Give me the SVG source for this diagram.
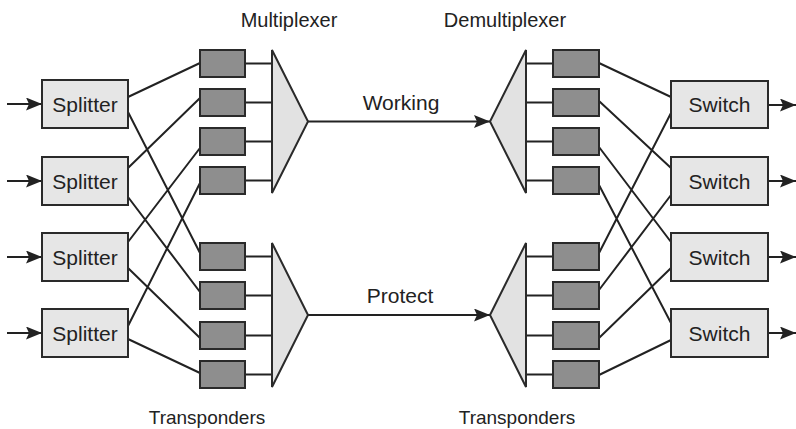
<svg xmlns="http://www.w3.org/2000/svg" width="796" height="429" viewBox="0 0 796 429">
<style>
.box{fill:#e6e6e6;stroke:#2a2a2a;stroke-width:2}
.tp{fill:#8e8e8e;stroke:#2a2a2a;stroke-width:2}
.mux{fill:#e2e2e2;stroke:#2a2a2a;stroke-width:2;stroke-linejoin:miter}
.ln{fill:none;stroke:#222;stroke-width:2}
.t{font-family:"Liberation Sans",Arial,sans-serif;fill:#222;text-anchor:middle}
.bt{font-size:21px}
.lb{font-size:20px}
.lt{font-size:19px}
</style>
<defs>
<marker id="ah" markerUnits="userSpaceOnUse" markerWidth="16" markerHeight="13" refX="16" refY="6.5" orient="auto">
<path d="M0,0 L16,6.5 L0,13 L3,6.5 z" fill="#222"/>
</marker>
</defs>
<rect width="796" height="429" fill="#fff"/>
<g id="labels">
<text class="t lb" x="289" y="27">Multiplexer</text>
<text class="t lb" x="505" y="27">Demultiplexer</text>
<text class="t lt" x="207" y="424">Transponders</text>
<text class="t lt" x="517" y="424">Transponders</text>
<text class="t bt" x="401" y="110">Working</text>
<text class="t bt" x="400" y="303">Protect</text>
</g>
<g id="connectors">
<line class="ln" x1="7" y1="104" x2="42" y2="104" marker-end="url(#ah)"/>
<line class="ln" x1="7" y1="181" x2="42" y2="181" marker-end="url(#ah)"/>
<line class="ln" x1="7" y1="257" x2="42" y2="257" marker-end="url(#ah)"/>
<line class="ln" x1="7" y1="333" x2="42" y2="333" marker-end="url(#ah)"/>
<line class="ln" x1="768" y1="105" x2="796" y2="105" marker-end="url(#ah)"/>
<line class="ln" x1="768" y1="181" x2="796" y2="181" marker-end="url(#ah)"/>
<line class="ln" x1="768" y1="257" x2="796" y2="257" marker-end="url(#ah)"/>
<line class="ln" x1="768" y1="333" x2="796" y2="333" marker-end="url(#ah)"/>
<line class="ln" x1="308" y1="121.5" x2="490" y2="121.5" marker-end="url(#ah)"/>
<line class="ln" x1="308" y1="315" x2="490" y2="315" marker-end="url(#ah)"/>
<path class="ln" d="M128,97 L200,63 M128,112 L200,253 M128,168 L200,98 M128,197 L200,292 M128,242 L200,148 M128,268 L200,338 M128,326 L200,183 M128,339 L200,373"/>
<path class="ln" d="M599,63 L671,97 M599,253 L671,113 M599,101 L671,168 M599,290 L671,195 M599,147 L671,242 M599,338 L671,268 M599,185 L671,323 M599,375 L671,340"/>
<path class="ln" d="M245,63.5 H272 M245,102.5 H272 M245,141.5 H272 M245,180.5 H272 M245,256.5 H272 M245,295.5 H272 M245,335.5 H272 M245,374.5 H272"/>
<path class="ln" d="M526,63.5 H553 M526,102.5 H553 M526,141.5 H553 M526,180.5 H553 M526,256.5 H553 M526,295.5 H553 M526,335.5 H553 M526,374.5 H553"/>
</g>
<g id="splitter1"><rect class="box" x="42" y="80" width="86" height="48"/><text class="t bt" x="85" y="111.5">Splitter</text></g>
<g id="splitter2"><rect class="box" x="42" y="157" width="86" height="48"/><text class="t bt" x="85" y="188.5">Splitter</text></g>
<g id="splitter3"><rect class="box" x="42" y="233" width="86" height="48"/><text class="t bt" x="85" y="264.5">Splitter</text></g>
<g id="splitter4"><rect class="box" x="42" y="309" width="86" height="48"/><text class="t bt" x="85" y="340.5">Splitter</text></g>
<g id="switch1"><rect class="box" x="671" y="81" width="97" height="47"/><text class="t bt" x="719.5" y="112">Switch</text></g>
<g id="switch2"><rect class="box" x="671" y="157" width="97" height="48"/><text class="t bt" x="719.5" y="188.5">Switch</text></g>
<g id="switch3"><rect class="box" x="671" y="233" width="97" height="48"/><text class="t bt" x="719.5" y="264.5">Switch</text></g>
<g id="switch4"><rect class="box" x="671" y="309" width="97" height="48"/><text class="t bt" x="719.5" y="340.5">Switch</text></g>
<g id="transponders-left">
<rect class="tp" x="200" y="50" width="45" height="27"/>
<rect class="tp" x="200" y="89" width="45" height="27"/>
<rect class="tp" x="200" y="128" width="45" height="27"/>
<rect class="tp" x="200" y="167" width="45" height="27"/>
<rect class="tp" x="200" y="243" width="45" height="27"/>
<rect class="tp" x="200" y="282" width="45" height="27"/>
<rect class="tp" x="200" y="322" width="45" height="27"/>
<rect class="tp" x="200" y="361" width="45" height="27"/>
</g>
<g id="transponders-right">
<rect class="tp" x="553" y="50" width="46" height="27"/>
<rect class="tp" x="553" y="89" width="46" height="27"/>
<rect class="tp" x="553" y="128" width="46" height="27"/>
<rect class="tp" x="553" y="167" width="46" height="27"/>
<rect class="tp" x="553" y="243" width="46" height="27"/>
<rect class="tp" x="553" y="282" width="46" height="27"/>
<rect class="tp" x="553" y="322" width="46" height="27"/>
<rect class="tp" x="553" y="361" width="46" height="27"/>
</g>
<g id="mux-working"><polygon class="mux" points="272,50 308,121.5 272,193"/></g>
<g id="mux-protect"><polygon class="mux" points="272,243 308,315 272,387"/></g>
<g id="demux-working"><polygon class="mux" points="526,50 490,121.5 526,193"/></g>
<g id="demux-protect"><polygon class="mux" points="526,243 490,315 526,387"/></g>
</svg>
